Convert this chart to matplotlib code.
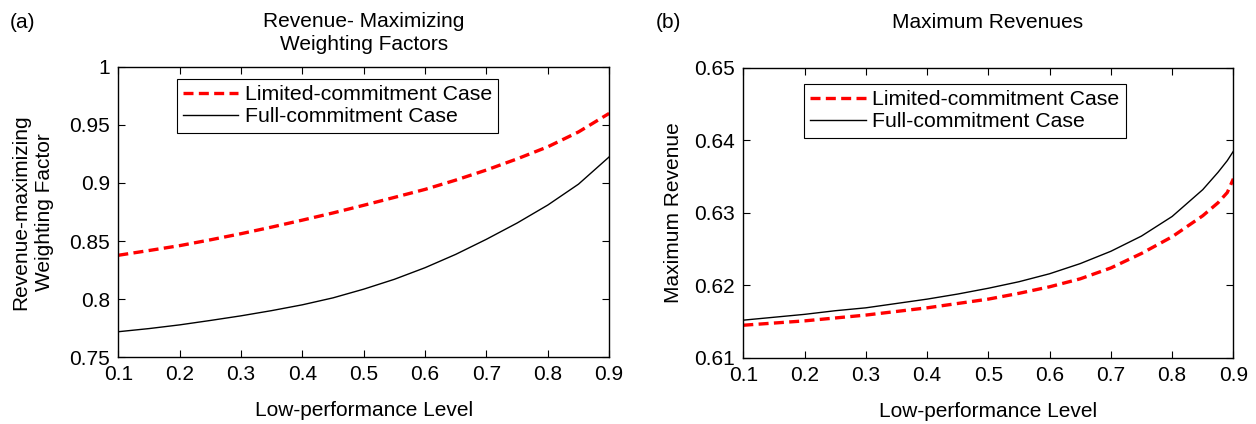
import matplotlib
matplotlib.use("Agg")
import matplotlib.pyplot as plt

plt.rcParams['font.family'] = ['Liberation Sans', 'DejaVu Sans']
plt.rcParams['font.size'] = 15

# ---------- DATA ----------
x_a = [0.10, 0.15, 0.20, 0.25, 0.30, 0.35, 0.40, 0.45, 0.50,
       0.55, 0.60, 0.65, 0.70, 0.75, 0.80, 0.85, 0.90]
limited_a = [0.8377, 0.8418, 0.8460, 0.8510, 0.8563, 0.8620, 0.8680, 0.8742, 0.8808,
             0.8876, 0.8945, 0.9025, 0.9112, 0.9208, 0.9312, 0.9440, 0.9600]
full_a = [0.7718, 0.7745, 0.7777, 0.7815, 0.7855, 0.7900, 0.7950, 0.8010, 0.8085,
          0.8170, 0.8270, 0.8385, 0.8515, 0.8655, 0.8810, 0.8990, 0.9225]

x_b = [0.10, 0.15, 0.20, 0.25, 0.30, 0.35, 0.40, 0.45, 0.50,
       0.55, 0.60, 0.65, 0.70, 0.75, 0.80, 0.85, 0.875, 0.89, 0.90]
limited_b = [0.6145, 0.6148, 0.6151, 0.6155, 0.6159, 0.6164, 0.6169, 0.6175, 0.6181,
             0.6189, 0.6198, 0.6209, 0.6224, 0.6244, 0.6267, 0.6296, 0.6314, 0.6328, 0.6347]
full_b = [0.6152, 0.6156, 0.6160, 0.6165, 0.6169, 0.6175, 0.6181, 0.6188, 0.6196,
          0.6205, 0.6216, 0.6230, 0.6247, 0.6268, 0.6295, 0.6332, 0.6356, 0.6372, 0.6385]

xticks = [0.1, 0.2, 0.3, 0.4, 0.5, 0.6, 0.7, 0.8, 0.9]
yticks_a = [0.75, 0.8, 0.85, 0.9, 0.95, 1.0]
yticklabels_a = ['0.75', '0.8', '0.85', '0.9', '0.95', '1']
yticks_b = [0.61, 0.62, 0.63, 0.64, 0.65]
yticklabels_b = ['0.61', '0.62', '0.63', '0.64', '0.65']
labels = ['Limited-commitment Case', 'Full-commitment Case']
# --------------------------

W, H = 1256, 424
fig = plt.figure(figsize=(W / 100, H / 100), dpi=100)
ax1 = fig.add_axes([0.0942, 0.158, 0.3908, 0.684])
ax2 = fig.add_axes([0.5918, 0.156, 0.3902, 0.684])

red_dash = dict(color='red', linestyle=(0, (3.0, 1.6)), linewidth=2.4)
black_line = dict(color='black', linewidth=1.0)


def style(ax):
    ax.tick_params(direction='in', top=True, right=True, length=5, width=0.8, pad=6)
    for s in ax.spines.values():
        s.set_linewidth(1.0)
    ax.set_xlim(0.1, 0.9)
    ax.set_xticks(xticks)
    ax.set_xticklabels([f"{t:g}" for t in xticks])
    ax.set_xlabel("Low-performance Level", labelpad=12)


def add_legend(ax, anchor):
    leg = ax.legend(loc='upper left', bbox_to_anchor=anchor, fancybox=False,
                    edgecolor='black', framealpha=1, handlelength=2.6, borderpad=0.3,
                    labelspacing=0.15, handletextpad=0.3, borderaxespad=0,
                    fontsize=15.3)
    leg.get_frame().set_linewidth(0.8)


# (a)
ax1.plot(x_a, limited_a, label=labels[0], **red_dash)
ax1.plot(x_a, full_a, label=labels[1], **black_line)
style(ax1)
ax1.set_ylim(0.75, 1.0)
ax1.set_yticks(yticks_a)
ax1.set_yticklabels(yticklabels_a)
ax1.set_ylabel("Revenue-maximizing\nWeighting Factor", labelpad=11, linespacing=1.3)
add_legend(ax1, (0.119, 0.96))

# (b)
ax2.plot(x_b, limited_b, label=labels[0], **red_dash)
ax2.plot(x_b, full_b, label=labels[1], **black_line)
style(ax2)
ax2.set_ylim(0.61, 0.65)
ax2.set_yticks(yticks_b)
ax2.set_yticklabels(yticklabels_b)
ax2.set_ylabel("Maximum Revenue", labelpad=8)
add_legend(ax2, (0.124, 0.945))

fig.text(363.6 / W, 1 - 33 / H, "Revenue- Maximizing\nWeighting Factors",
         ha='center', va='center', linespacing=1.25)
fig.text(988 / W, 1 - 22 / H, "Maximum Revenues", ha='center', va='center')
fig.text(10 / W, 1 - 22 / H, "(a)", va='center')
fig.text(656 / W, 1 - 22 / H, "(b)", va='center')

fig.savefig("out.png", dpi=100)
